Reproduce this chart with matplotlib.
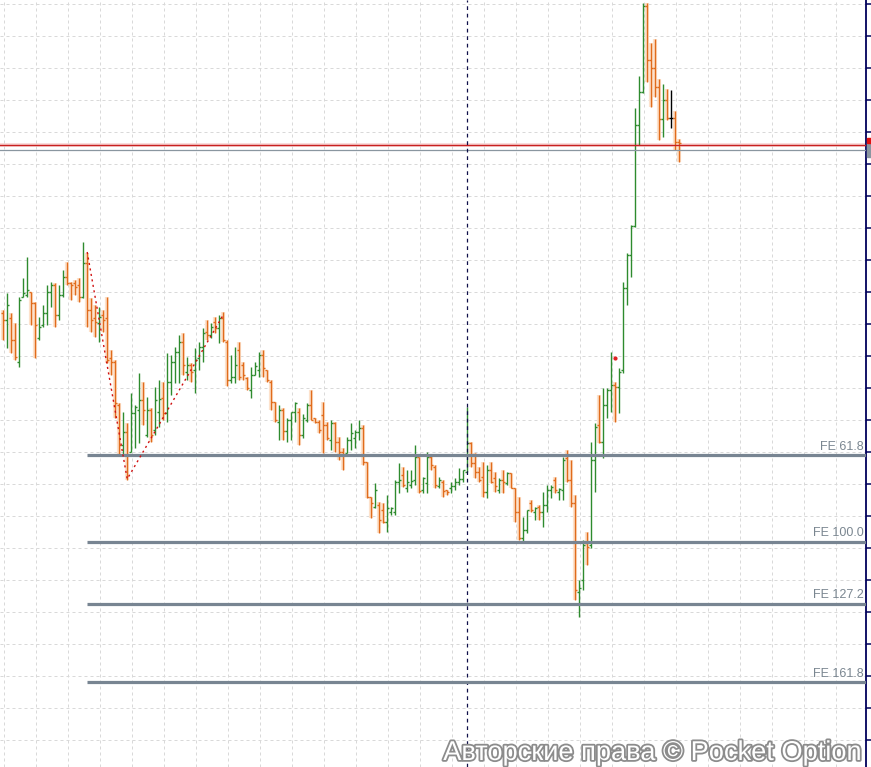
import numpy as np
import matplotlib
matplotlib.use("Agg")
import matplotlib.pyplot as plt
from matplotlib.collections import LineCollection
from matplotlib.patches import Rectangle
from matplotlib import patheffects as pe
from matplotlib import transforms

# OHLC bars, one per bar index (price units)
opens = [687, 680, 682, 660, 638, 703, 705, 708, 697, 662,
         675, 687, 708, 715, 685, 705, 723, 717, 717, 715,
         703, 737, 690, 682, 677, 685, 682, 642, 638, 595,
         555, 568, 548, 587, 590, 600, 565, 590, 570, 588,
         602, 587, 618, 638, 648, 658, 628, 635, 630, 642,
         653, 668, 665, 678, 672, 682, 658, 620, 623, 650,
         635, 622, 610, 625, 630, 645, 630, 618, 598, 578,
         590, 569, 580, 588, 588, 565, 580, 595, 582, 578,
         585, 575, 560, 577, 558, 548, 547, 560, 562, 568,
         572, 538, 503, 493, 495, 490, 478, 488, 488, 518,
         525, 512, 515, 520, 543, 510, 517, 543, 533, 514,
         518, 510, 512, 514, 518, 521, 528, 557, 537, 528,
         523, 508, 530, 522, 510, 520, 517, 527, 512, 488,
         462, 470, 497, 488, 493, 488, 495, 510, 520, 508,
         510, 542, 520, 497, 408, 420, 457, 455, 540, 575,
         558, 595, 610, 615, 613, 630, 712, 745, 774, 875,
         908, 994, 940, 932, 913, 881, 900, 882, 882, 858]
highs = [690, 707, 687, 677, 703, 722, 743, 708, 698, 683,
         695, 715, 718, 717, 715, 730, 738, 718, 720, 722,
         758, 747, 702, 695, 693, 690, 703, 650, 640, 597,
         588, 577, 607, 595, 627, 618, 603, 592, 613, 620,
         618, 647, 645, 653, 665, 667, 643, 637, 652, 658,
         672, 680, 677, 683, 685, 688, 660, 645, 653, 658,
         638, 623, 633, 638, 648, 650, 630, 620, 598, 595,
         592, 582, 588, 598, 592, 586, 597, 610, 582, 580,
         598, 578, 580, 578, 563, 552, 563, 577, 570, 580,
         575, 538, 503, 517, 498, 497, 505, 493, 520, 537,
         533, 530, 530, 555, 543, 523, 548, 545, 535, 523,
         520, 510, 518, 522, 532, 530, 593, 558, 547, 533,
         538, 535, 538, 528, 522, 530, 528, 527, 512, 503,
         483, 490, 500, 493, 495, 508, 515, 515, 523, 512,
         543, 550, 540, 505, 420, 460, 468, 558, 577, 605,
         612, 612, 648, 618, 632, 718, 747, 775, 892, 924,
         997, 997, 957, 961, 921, 916, 911, 910, 889, 861]
lows = [660, 652, 647, 640, 633, 703, 703, 675, 642, 660,
        673, 675, 693, 673, 680, 703, 715, 700, 705, 698,
        702, 673, 668, 663, 658, 668, 637, 625, 582, 545,
        545, 520, 548, 552, 557, 575, 563, 558, 565, 573,
        580, 578, 605, 617, 617, 625, 620, 618, 607, 630,
        638, 660, 662, 667, 657, 658, 614, 617, 617, 620,
        620, 610, 602, 625, 623, 623, 618, 590, 578, 560,
        560, 558, 560, 578, 555, 562, 578, 580, 577, 567,
        547, 560, 550, 548, 540, 530, 547, 550, 552, 560,
        535, 502, 482, 492, 467, 477, 468, 485, 485, 507,
        513, 508, 512, 515, 507, 507, 507, 530, 512, 512,
        503, 505, 507, 510, 515, 518, 528, 533, 522, 518,
        503, 502, 517, 508, 507, 507, 515, 512, 478, 460,
        457, 467, 488, 480, 480, 473, 488, 502, 507, 500,
        500, 518, 493, 400, 383, 410, 435, 452, 508, 557,
        542, 582, 588, 578, 587, 627, 695, 723, 773, 855,
        907, 918, 893, 903, 860, 863, 880, 872, 850, 838]
closes = [680, 695, 660, 643, 700, 707, 710, 697, 675, 673,
          687, 708, 715, 685, 705, 723, 717, 715, 713, 703,
          737, 690, 680, 678, 683, 680, 640, 638, 597, 555,
          568, 545, 587, 593, 600, 590, 590, 565, 600, 601,
          587, 618, 638, 648, 658, 635, 635, 628, 640, 653,
          667, 665, 673, 672, 682, 660, 620, 623, 635, 623,
          625, 612, 625, 634, 645, 632, 620, 598, 580, 590,
          569, 580, 588, 597, 565, 582, 595, 580, 578, 570,
          575, 562, 577, 558, 548, 545, 560, 567, 568, 572,
          538, 503, 497, 510, 480, 478, 492, 492, 518, 520,
          515, 518, 519, 543, 509, 522, 543, 535, 515, 520,
          509, 508, 514, 518, 521, 530, 557, 537, 528, 520,
          508, 530, 518, 514, 520, 518, 527, 512, 488, 462,
          470, 490, 490, 492, 488, 495, 510, 513, 510, 511,
          540, 520, 497, 410, 412, 455, 453, 540, 573, 558,
          595, 610, 615, 613, 628, 712, 745, 774, 875, 908,
          994, 940, 932, 913, 881, 900, 882, 882, 858, 857]

# Fibonacci expansion anchors (bar index, price) and levels
fe_idx = [21, 31, 55]
fe_price = [748, 521, 685]
fe_levels = [61.8, 100.0, 127.2, 161.8]

ask_price = 855
bid_price = 850
cursor_idx = 116
dot_idx, dot_price = 153, 642

o, h, l, c = map(np.array, (opens, highs, lows, closes))
x = np.arange(len(o))

fig = plt.figure(figsize=(8.71, 7.67), dpi=100)
ax = fig.add_axes([0, 0, 866 / 871, 1])
ax.set_xlim(-0.8, 215.7)
ax.set_ylim(233, 1000)

# grid
ax.set_xticks(np.arange(0.175, 215, 8))
ax.set_yticks(np.arange(260, 1000, 32))
ax.grid(True, color="#d9d9d9", linestyle=(0, (3, 3)), linewidth=0.72, zorder=0)
for s in ("left", "top", "bottom"):
    ax.spines[s].set_visible(False)
ax.spines["right"].set_color("#00005a")
ax.spines["right"].set_linewidth(1.3)
ax.yaxis.tick_right()
ax.tick_params(axis="y", direction="out", length=4, width=1.1, colors="#00005a",
               labelright=False, labelleft=False)
ax.tick_params(axis="x", length=0, labelbottom=False)

# OHLC bars
tk = 0.45
up, dn, doji = "#2e8b2e", "#e06c1c", "#000000"
colors = np.where(c > o, up, np.where(c < o, dn, doji))
segs, cols, glow = [], [], []
for i in range(len(o)):
    bar = [[(x[i], l[i]), (x[i], h[i])],
           [(x[i] - tk, o[i]), (x[i], o[i])],
           [(x[i], c[i]), (x[i] + tk, c[i])]]
    segs += bar
    cols += [colors[i]] * 3
    if c[i] < o[i]:
        glow.append(bar[0])
ax.add_collection(LineCollection(glow, colors="#fde2cc", linewidths=3.0, zorder=2))
ax.add_collection(LineCollection(segs, colors=cols, linewidths=1.0, zorder=3))

# price lines
ax.axhline(ask_price, color="#f8d4d4", lw=2.6, zorder=1)
ax.axhline(ask_price, color="#c82020", lw=1.0, zorder=4)
ax.axhline(bid_price, color="#8a96a0", lw=0.9, zorder=4)
bt = transforms.blended_transform_factory(ax.transAxes, ax.transData)
ax.add_patch(Rectangle((1.001, ask_price - 12), 0.02, 14, transform=bt, color="#8a96a0",
                       clip_on=False, zorder=5))
ax.add_patch(Rectangle((1.001, ask_price + 2), 0.02, 5, transform=bt, color="#e01010",
                       clip_on=False, zorder=5))

# cursor line
ax.axvline(cursor_idx, color="#10104a", linestyle=(0, (3, 3)), lw=0.9, zorder=4)

# zigzag and FE levels
ax.plot(fe_idx, fe_price, color="#d01010", linestyle=(0, (1.5, 2.5)), lw=1.0, zorder=5)
ab = fe_price[0] - fe_price[1]
for lv in fe_levels:
    p = fe_price[2] - ab * lv / 100
    ax.plot([fe_idx[0], 215.7], [p, p], color="#788592", lw=2.3, zorder=4,
            solid_capstyle="butt")
    ax.annotate(f"FE {lv:.1f}", xy=(1, p), xycoords=bt, xytext=(-1.5, 2),
                textcoords="offset points", ha="right", va="bottom",
                fontsize=9, family="Liberation Sans", color="#7a8690", zorder=6)

ax.plot([dot_idx], [dot_price], "o", ms=2, color="#e02020", zorder=6)

fig.text(862 / 871, 7 / 767, "Авторские права © Pocket Option", ha="right", va="baseline",
         fontsize=19.6, family="Liberation Sans", color="white",
         path_effects=[pe.Stroke(linewidth=2.6, foreground="#8c8c8c"), pe.Normal()])

fig.savefig("out.png", dpi=100)
